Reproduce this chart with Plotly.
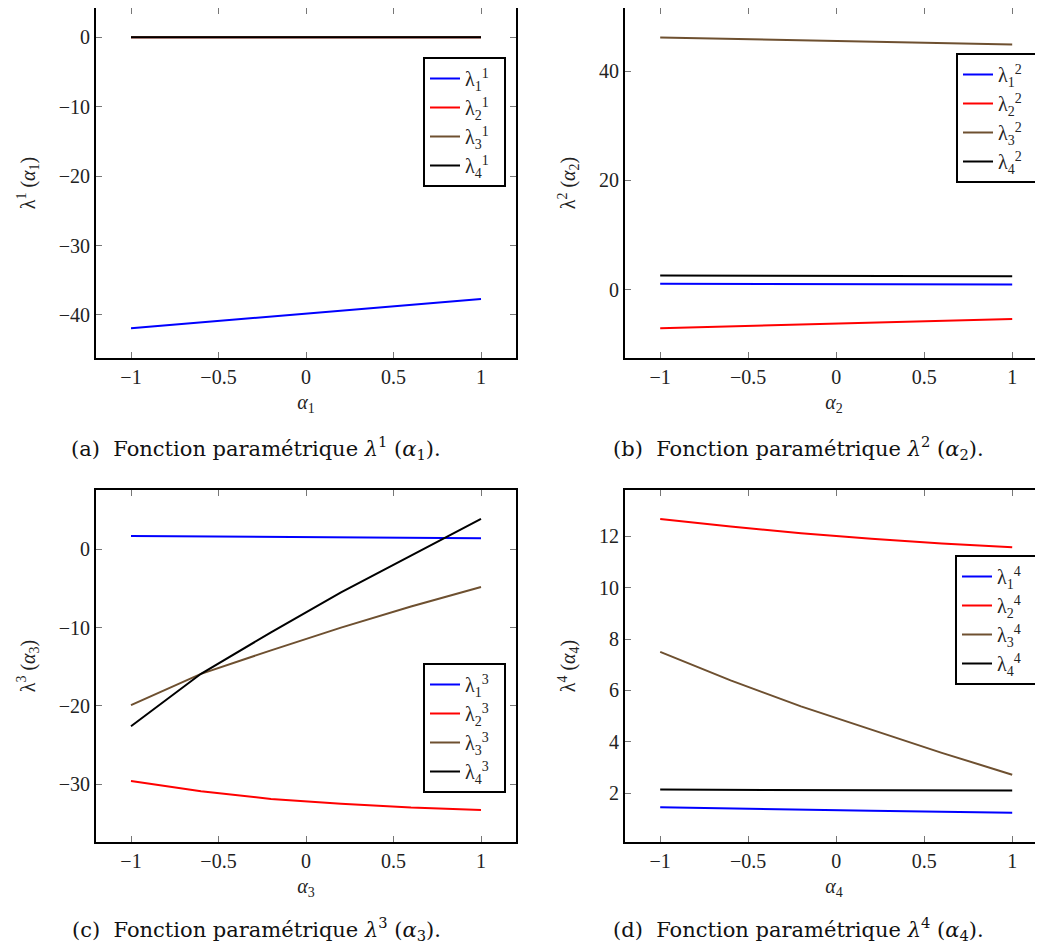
import plotly.graph_objects as go

# ---------------- data ----------------
alpha = [-1.0, -0.6, -0.2, 0.2, 0.6, 1.0]

# (a) lambda^1(alpha_1)
a_l1 = [-41.9, -41.06, -40.22, -39.38, -38.54, -37.7]
a_l2 = [0.0, 0.0, 0.0, 0.0, 0.0, 0.0]
a_l3 = [0.0, 0.0, 0.0, 0.0, 0.0, 0.0]
a_l4 = [0.0, 0.0, 0.0, 0.0, 0.0, 0.0]

# (b) lambda^2(alpha_2)
b_l1 = [1.05, 1.02, 0.99, 0.96, 0.93, 0.90]
b_l2 = [-7.1, -6.75, -6.4, -6.08, -5.75, -5.42]
b_l3 = [46.2, 45.95, 45.7, 45.45, 45.18, 44.9]
b_l4 = [2.55, 2.53, 2.51, 2.49, 2.47, 2.45]

# (c) lambda^3(alpha_3)
c_l1 = [1.72, 1.66, 1.60, 1.54, 1.48, 1.42]
c_l2 = [-29.6, -30.9, -31.9, -32.5, -33.0, -33.3]
c_l3 = [-19.9, -15.9, -12.9, -10.0, -7.3, -4.8]
c_l4 = [-22.6, -15.9, -10.6, -5.5, -0.8, 3.9]

# (d) lambda^4(alpha_4)
d_l1 = [1.45, 1.40, 1.36, 1.32, 1.28, 1.24]
d_l2 = [12.67, 12.38, 12.12, 11.90, 11.72, 11.57]
d_l3 = [7.50, 6.39, 5.38, 4.47, 3.57, 2.72]
d_l4 = [2.14, 2.13, 2.12, 2.12, 2.11, 2.10]

x_ticks = [-1, -0.5, 0, 0.5, 1]
x_ticktext = ["−1", "−0.5", "0", "0.5", "1"]
a_yticks = [-40, -30, -20, -10, 0]
b_yticks = [0, 20, 40]
c_yticks = [-30, -20, -10, 0]
d_yticks = [2, 4, 6, 8, 10, 12]

colors = ["#0000ff", "#ff0000", "#6e5030", "#000000"]

panels = [
    ("a", [a_l1, a_l2, a_l3, a_l4], a_yticks, [-46.2, 4.2], "1"),
    ("b", [b_l1, b_l2, b_l3, b_l4], b_yticks, [-12.55, 51.6], "2"),
    ("c", [c_l1, c_l2, c_l3, c_l4], c_yticks, [-37.4, 7.6], "3"),
    ("d", [d_l1, d_l2, d_l3, d_l4], d_yticks, [0.1, 13.8], "4"),
]

# page has an 8px body margin: the figure starts at (8, 8) of the window
OFF = 8
W, H = 1043 - OFF, 947 - OFF


def fx(px):
    return (px - OFF) / W


def fy(py):
    return 1 - (py - OFF) / H


SERIF = "Liberation Serif, Times New Roman, serif"
TICKFONT = dict(family=SERIF, size=20, color="#222222")
TITLEFONT = dict(family=SERIF, size=20, color="#222222")
CAPFONT = dict(family="DejaVu Serif", size=21, color="#111111")

# pixel layout (window coordinates)
col_x = {"L": (96, 516), "R": (625, 1043)}
row_y = {"T": (8, 358), "B": (490, 842)}
pos = {"a": ("L", "T"), "b": ("R", "T"), "c": ("L", "B"), "d": ("R", "B")}
xranges = {"L": [-1.2, 1.2], "R": [-1.2, 1.175]}
legend_pos = {"a": (506, 57), "b": (1039, 53), "c": (506, 663), "d": (1038, 555)}

fig = go.Figure()
layout = dict(width=W, height=H, margin=dict(l=0, r=0, t=0, b=0),
              paper_bgcolor="white", plot_bgcolor="white", showlegend=True)

for i, (name, series, yt, yr, k) in enumerate(panels):
    idx = "" if i == 0 else str(i + 1)
    leg = "legend" if i == 0 else "legend" + str(i + 1)
    for j, s in enumerate(series):
        fig.add_trace(go.Scatter(
            x=alpha, y=s, mode="lines",
            line=dict(color=colors[j], width=2),
            name=f"λ<sub>{j+1}</sub><sup>{k}</sup>\u00a0\u00a0",
            xaxis="x" + idx, yaxis="y" + idx, legend=leg,
        ))
    c, r = pos[name]
    x0, x1 = col_x[c]
    y0, y1 = row_y[r]
    common = dict(showline=True, linecolor="black", linewidth=2, mirror="ticks",
                  ticks="inside", ticklen=6, tickcolor="#777777", tickwidth=1,
                  showgrid=False, zeroline=False, tickfont=TICKFONT, automargin=False)
    layout["xaxis" + idx] = dict(
        domain=[fx(x0), min(1.0, fx(x1))], anchor="y" + idx, range=xranges[c],
        tickvals=x_ticks, ticktext=x_ticktext,
        title=dict(text=f"<i>α</i><sub>{k}</sub>", font=TITLEFONT, standoff=8),
        **common)
    layout["yaxis" + idx] = dict(
        domain=[fy(y1), min(1.0, fy(y0))], anchor="x" + idx, range=yr,
        tickvals=yt, ticktext=[str(v).replace("-", "−") for v in yt],
        title=dict(text=f"λ<sup>{k}</sup> (<i>α</i><sub>{k}</sub>)", font=TITLEFONT, standoff=18),
        **common)
    lx, ly = legend_pos[name]
    layout[leg] = dict(x=fx(lx), y=fy(ly), xanchor="right", yanchor="top",
                       bgcolor="white", bordercolor="black", borderwidth=2,
                       font=dict(family=SERIF, size=20, color="#222222"),
                       itemwidth=30, tracegroupgap=0)

fig.update_layout(**layout)

captions = [
    ("(a)  Fonction paramétrique <i>λ</i><sup>1</sup> (<i>α</i><sub>1</sub>).", 256, 448),
    ("(b)  Fonction paramétrique <i>λ</i><sup>2</sup> (<i>α</i><sub>2</sub>).", 798, 448),
    ("(c)  Fonction paramétrique <i>λ</i><sup>3</sup> (<i>α</i><sub>3</sub>).", 256, 929),
    ("(d)  Fonction paramétrique <i>λ</i><sup>4</sup> (<i>α</i><sub>4</sub>).", 798, 929),
]
for txt, cx, cy in captions:
    fig.add_annotation(text=txt, x=fx(cx), y=fy(cy), xref="paper", yref="paper",
                       xanchor="center", yanchor="middle", showarrow=False, font=CAPFONT)

fig.write_html("out.html")
